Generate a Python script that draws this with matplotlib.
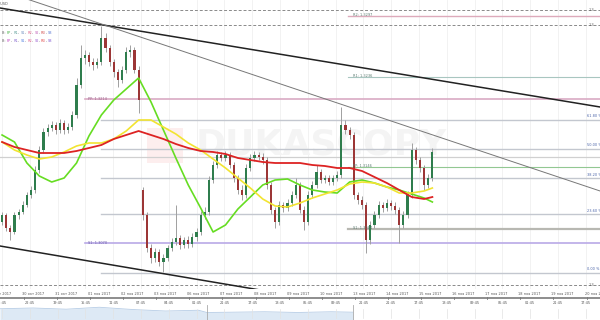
import numpy as np
import matplotlib
matplotlib.use('Agg')
import matplotlib.pyplot as plt
from matplotlib.patches import Rectangle

# ---- data -------------------------------------------------------------
# 3-hour candles, 8 per trading day, x axis counted in trading days
candles_per_day = 8
first_open = 1.3091
gap_opens = {34: 1.3123}

closes = [
    1.3098, 1.3085, 1.3081, 1.3098, 1.3101, 1.3108, 1.3118, 1.3123, 1.3143, 1.3163,
    1.3181, 1.3185, 1.3188, 1.3183, 1.3190, 1.3183, 1.3186, 1.3198, 1.3228, 1.3255,
    1.3258, 1.3251, 1.3248, 1.3251, 1.3275, 1.3265, 1.3251, 1.3241, 1.3233, 1.3243,
    1.3261, 1.3263, 1.3243, 1.3213, 1.3098, 1.3065, 1.3055, 1.3061, 1.3051, 1.3055,
    1.3065, 1.3071, 1.3075, 1.3068, 1.3073, 1.3069, 1.3076, 1.3081, 1.3098, 1.3101,
    1.3133, 1.3148, 1.3158, 1.3155, 1.3158, 1.3148, 1.3135, 1.3123, 1.3118, 1.3145,
    1.3155, 1.3158, 1.3156, 1.3153, 1.3128, 1.3103, 1.3091, 1.3108, 1.3105, 1.3110,
    1.3118, 1.3128, 1.3103, 1.3091, 1.3118, 1.3128, 1.3141, 1.3133, 1.3135, 1.3131,
    1.3135, 1.3138, 1.3188, 1.3183, 1.3178, 1.3118, 1.3113, 1.3108, 1.3073, 1.3088,
    1.3098, 1.3108, 1.3105, 1.3110, 1.3107, 1.3103, 1.3088, 1.3098, 1.3118, 1.3163,
    1.3153, 1.3145, 1.3128, 1.3135, 1.3161]
highs = [
    1.3101, 1.3100, 1.3088, 1.3101, 1.3104, 1.3112, 1.3121, 1.3127, 1.3147, 1.3167,
    1.3185, 1.3189, 1.3192, 1.3191, 1.3194, 1.3193, 1.3190, 1.3202, 1.3235, 1.3268,
    1.3263, 1.3261, 1.3255, 1.3255, 1.3287, 1.3280, 1.3268, 1.3254, 1.3244, 1.3247,
    1.3266, 1.3268, 1.3266, 1.3247, 1.3126, 1.3101, 1.3069, 1.3065, 1.3064, 1.3059,
    1.3068, 1.3075, 1.3108, 1.3078, 1.3076, 1.3077, 1.3080, 1.3085, 1.3102, 1.3106,
    1.3137, 1.3152, 1.3162, 1.3161, 1.3162, 1.3161, 1.3151, 1.3138, 1.3128, 1.3149,
    1.3159, 1.3162, 1.3161, 1.3160, 1.3156, 1.3131, 1.3106, 1.3112, 1.3111, 1.3114,
    1.3122, 1.3135, 1.3131, 1.3107, 1.3122, 1.3132, 1.3148, 1.3144, 1.3138, 1.3138,
    1.3138, 1.3142, 1.3206, 1.3193, 1.3186, 1.3181, 1.3121, 1.3117, 1.3111, 1.3092,
    1.3102, 1.3112, 1.3111, 1.3114, 1.3113, 1.3111, 1.3106, 1.3102, 1.3122, 1.3170,
    1.3166, 1.3156, 1.3148, 1.3139, 1.3165]
lows = [
    1.3088, 1.3082, 1.3073, 1.3079, 1.3094, 1.3099, 1.3106, 1.3115, 1.3120, 1.3140,
    1.3160, 1.3177, 1.3182, 1.3179, 1.3180, 1.3179, 1.3180, 1.3183, 1.3195, 1.3225,
    1.3249, 1.3247, 1.3243, 1.3245, 1.3248, 1.3261, 1.3247, 1.3236, 1.3226, 1.3230,
    1.3240, 1.3256, 1.3240, 1.3200, 1.3093, 1.3061, 1.3050, 1.3051, 1.3047, 1.3041,
    1.3052, 1.3062, 1.3068, 1.3064, 1.3065, 1.3065, 1.3066, 1.3072, 1.3078, 1.3094,
    1.3098, 1.3130, 1.3145, 1.3152, 1.3152, 1.3145, 1.3131, 1.3119, 1.3113, 1.3115,
    1.3142, 1.3152, 1.3153, 1.3149, 1.3124, 1.3099, 1.3085, 1.3088, 1.3101, 1.3102,
    1.3107, 1.3115, 1.3100, 1.3083, 1.3088, 1.3115, 1.3125, 1.3130, 1.3130, 1.3128,
    1.3128, 1.3132, 1.3135, 1.3179, 1.3174, 1.3114, 1.3109, 1.3104, 1.3060, 1.3069,
    1.3085, 1.3095, 1.3101, 1.3102, 1.3103, 1.3099, 1.3070, 1.3085, 1.3095, 1.3115,
    1.3149, 1.3141, 1.3123, 1.3125, 1.3132]

# moving averages, sampled every 3rd candle (plus the last one)
ma_idx = list(range(0, 103, 3)) + [104]
ma_green = [
    1.3178, 1.3171, 1.3150, 1.3137, 1.3131, 1.3135, 1.3150, 1.3177, 1.3198, 1.3213,
    1.3224, 1.3235, 1.3211, 1.3183, 1.3155, 1.3128, 1.3105, 1.3081, 1.3088, 1.3104,
    1.3116, 1.3128, 1.3133, 1.3134, 1.3128, 1.3123, 1.3121, 1.3120, 1.3131, 1.3133,
    1.3130, 1.3126, 1.3123, 1.3119, 1.3115, 1.3111]
ma_yellow = [
    1.3171, 1.3163, 1.3158, 1.3154, 1.3156, 1.3161, 1.3167, 1.3170, 1.3170, 1.3174,
    1.3182, 1.3193, 1.3193, 1.3186, 1.3179, 1.3170, 1.3163, 1.3154, 1.3145, 1.3135,
    1.3125, 1.3114, 1.3107, 1.3106, 1.3110, 1.3115, 1.3119, 1.3123, 1.3129, 1.3131,
    1.3130, 1.3126, 1.3120, 1.3120, 1.3122, 1.3125]
ma_red = [
    1.3171, 1.3166, 1.3163, 1.3160, 1.3160, 1.3160, 1.3162, 1.3165, 1.3168, 1.3174,
    1.3178, 1.3182, 1.3178, 1.3174, 1.3169, 1.3165, 1.3162, 1.3161, 1.3159, 1.3155,
    1.3153, 1.3151, 1.3150, 1.3150, 1.3150, 1.3148, 1.3147, 1.3145, 1.3145, 1.3142,
    1.3136, 1.3130, 1.3123, 1.3116, 1.3114, 1.3116]

# pivot sets: (name, level); start day of each set
pivots_a = [('PP', 1.3214), ('S1', 1.3070)]
pivots_a_start = 2.57
pivots_b = [('R2', 1.3297), ('R1', 1.3236), ('PP', 1.3146), ('S1', 1.3084)]
pivots_b_start = 10.5

# fibonacci retracement between the swing high and low
fib_high, fib_low = 1.3288, 1.3040
fib_start = 3.06
fib_levels = [0.0, 0.236, 0.382, 0.5, 0.618]

dashed_levels = [1.3303, 1.3288, 1.3028]
gray_level = 1.3156

# trend lines: (day, price) end points
trend_upper = [(0.0, 1.3305), (18.13, 1.3206)]
trend_thin = [(0.0, 1.3323), (18.13, 1.3122)]
trend_lower = [(0.0, 1.3067), (10.0, 1.3011)]

date_labels = ['27 окт 2017', '30 окт 2017', '31 окт 2017', '01 ноя 2017', '02 ноя 2017',
               '03 ноя 2017', '06 ноя 2017', '07 ноя 2017', '08 ноя 2017', '09 ноя 2017',
               '10 ноя 2017', '13 ноя 2017', '14 ноя 2017', '15 ноя 2017', '16 ноя 2017',
               '17 ноя 2017', '18 ноя 2017', '19 ноя 2017', '20 ноя 2017']
time_labels = ['01:45', '22:45', '19:45', '15:45', '11:45', '07:45', '04:45', '01:45',
               '21:45', '17:45', '13:45', '05:45', '09:45', '21:45', '21:45', '17:45',
               '13:45', '09:45', '05:45', '01:45', '21:45', '17:45']

nav_days = [0, 1, 2, 3, 4, 5, 6, 6.25, 7, 8, 9, 10, 10.66]
nav_values = [0.75, 0.8, 0.72, 0.85, 0.7, 0.6, 0.65, 0.5, 0.52, 0.55, 0.5, 0.55, 0.52]

# ---- figure ----------------------------------------------------------
W, H = 600, 320
fig = plt.figure(figsize=(6, 3.2), dpi=100)
fig.patch.set_facecolor('white')
xmax = W / 33.1
fs = 2.5

ax = fig.add_axes([0, 31 / H, 1, 289 / H])
ax.set_xlim(0, xmax)
ax.set_ylim(1.3024, 1.3313)
ax.axis('off')

# grid
time_pos = [0.06 + 0.84 * k for k in range(len(time_labels))]
for t in time_pos:
    ax.axvline(t, color='#f0f0f0', lw=0.6, zorder=0)

# watermark
ax.add_patch(Rectangle((0.245, 0.436), 0.06, 0.121, transform=ax.transAxes,
                       color='#fdeeee', zorder=0.5, lw=0))
ax.text(0.535, 0.50, 'DUKASCOPY', transform=ax.transAxes, ha='center', va='center',
        fontsize=26, fontweight='bold', color='#f4f4f4', zorder=0.6)

# horizontal levels
for lv in dashed_levels:
    ax.axhline(lv, color='#8a8a8a', lw=0.7, ls=(0, (3, 2)), zorder=1)
    ax.text(xmax - 0.35, lv, '1.3', fontsize=fs, color='#555', va='center', zorder=5)
ax.axhline(gray_level, color='#d0d0d0', lw=0.9, zorder=1)

for k in fib_levels:
    lv = fib_low + k * (fib_high - fib_low)
    ax.plot([fib_start, xmax], [lv, lv], color='#c3c7cf', lw=1.0, zorder=1)
    ax.text(17.73, lv + 0.00015, f'{k * 100:.2f} %', fontsize=fs, color='#4a63a8',
            va='bottom', zorder=5)

piv_colors_a = {'PP': '#d9aac4', 'S1': '#b9a9e6'}
for name, lv in pivots_a:
    ax.plot([pivots_a_start, xmax], [lv, lv], color=piv_colors_a[name], lw=1.2, zorder=1)
    ax.text(pivots_a_start + 0.08, lv, f'{name}: {lv:.4f}', fontsize=fs,
            color='#9a5f8a' if name == 'PP' else '#6a5aa8', va='center', zorder=5)

piv_colors_b = {'R2': '#ddaabb', 'R1': '#a8c6c0', 'PP': '#92c892', 'S1': '#b8b8b2'}
piv_lw_b = {'R2': 1.0, 'R1': 0.8, 'PP': 0.8, 'S1': 1.6}
for name, lv in pivots_b:
    ax.plot([pivots_b_start, xmax], [lv, lv], color=piv_colors_b[name],
            lw=piv_lw_b[name], zorder=1)
    ax.text(pivots_b_start + 0.15, lv + 0.0001, f'{name}: {lv:.4f}', fontsize=fs,
            color='#5a7a70', va='center', zorder=5)

# trend lines
for pts, col, lw in [(trend_upper, '#222222', 1.1), (trend_thin, '#777777', 0.7),
                     (trend_lower, '#222222', 1.1)]:
    (x0, y0), (x1, y1) = pts
    ax.plot([x0, x1], [y0, y1], color=col, lw=lw, zorder=2)

# candles
n = len(closes)
opens = [first_open] + closes[:-1]
for i, v in gap_opens.items():
    opens[i] = v
xs = (np.arange(n) + 0.5) / candles_per_day
o = np.array(opens)
c = np.array(closes)
up = c >= o
ax.vlines(xs, lows, highs, color='#a0a0a0', lw=0.7, zorder=3)
body_w = 0.065
ax.bar(xs[up], (c - o)[up], bottom=o[up], width=body_w, color='#2f7d4d', lw=0, zorder=4)
ax.bar(xs[~up], (o - c)[~up], bottom=c[~up], width=body_w, color='#9c3636', lw=0, zorder=4)

# moving averages
ma_x = (np.array(ma_idx) + 0.5) / candles_per_day
ax.plot(ma_x, ma_green, color='#66dd22', lw=1.2, zorder=6, solid_joinstyle='round')
ax.plot(ma_x, ma_yellow, color='#f2e431', lw=1.2, zorder=6, solid_joinstyle='round')
ax.plot(ma_x, ma_red, color='#dd2323', lw=1.3, zorder=7, solid_joinstyle='round')

# legend lines (multi-coloured text)
def colored_line(y, parts):
    t = ax.text(0.004, y, parts[0][0], color=parts[0][1], transform=ax.transAxes,
                fontsize=fs, va='bottom', zorder=8)
    for s, col in parts[1:]:
        t = ax.annotate(s, xycoords=t, xy=(1, 0), va='bottom', color=col,
                        fontsize=fs, zorder=8)

sep = '#666666'
colored_line(0.879, [('B: ', sep), ('PP', '#3fae3f'), (', ', sep), ('R1', '#5f9f9a'),
                     (', ', sep), ('S1', '#6f8fc0'), (', ', sep), ('R2', '#e0608a'),
                     (', ', sep), ('S2', '#c060b8'), (', ', sep), ('R3', '#d04848'),
                     (', ', sep), ('S3', '#5070d0')])
colored_line(0.851, [('B: ', sep), ('PP', '#c040c0'), (', ', sep), ('R1', '#8a6ad0'),
                     (', ', sep), ('S1', '#4f7fe0'), (', ', sep), ('R2', '#e06090'),
                     (', ', sep), ('S2', '#9a60d0'), (', ', sep), ('R3', '#e04444'),
                     (', ', sep), ('S3', '#7a50d0')])
ax.text(0.014, 0.985, 'GBPUSD', transform=ax.transAxes, ha='right', va='center',
        fontsize=fs, color='#555')

# date / time strip
strip = fig.add_axes([0, 15 / H, 1, 16 / H])
strip.set_xlim(0, xmax)
strip.set_ylim(0, 1)
strip.axis('off')
for k, lab in enumerate(date_labels):
    strip.text(k, 0.69, lab, ha='center', va='center', fontsize=fs, color='#555')
    strip.plot([k - 0.28] * 2, [0.36, 0.52], color='#777', lw=0.6)
strip.axhline(0.44, color='#7a7a7a', lw=1.2)
for t, lab in zip(time_pos, time_labels):
    strip.text(t, 0.14, lab, ha='center', va='center', fontsize=fs, color='#555')

# navigator
nav = fig.add_axes([0, 0, 1, 15 / H])
nav.set_xlim(0, xmax)
nav.set_ylim(0, 1)
nav.axis('off')
nav.fill_between(nav_days, 0, nav_values, color='#dde9f5', lw=0)
nav.plot(nav_days, nav_values, color='#b7cde6', lw=0.6)
nav.axvline(6.25, color='#aaaaaa', lw=0.6)
nav.axvline(10.66, color='#aaaaaa', lw=0.6)
for t in time_pos:
    nav.plot([t, t], [0.15, 0.75], color='#e2e2e2', lw=0.5)

fig.savefig('out.png', dpi=100)
